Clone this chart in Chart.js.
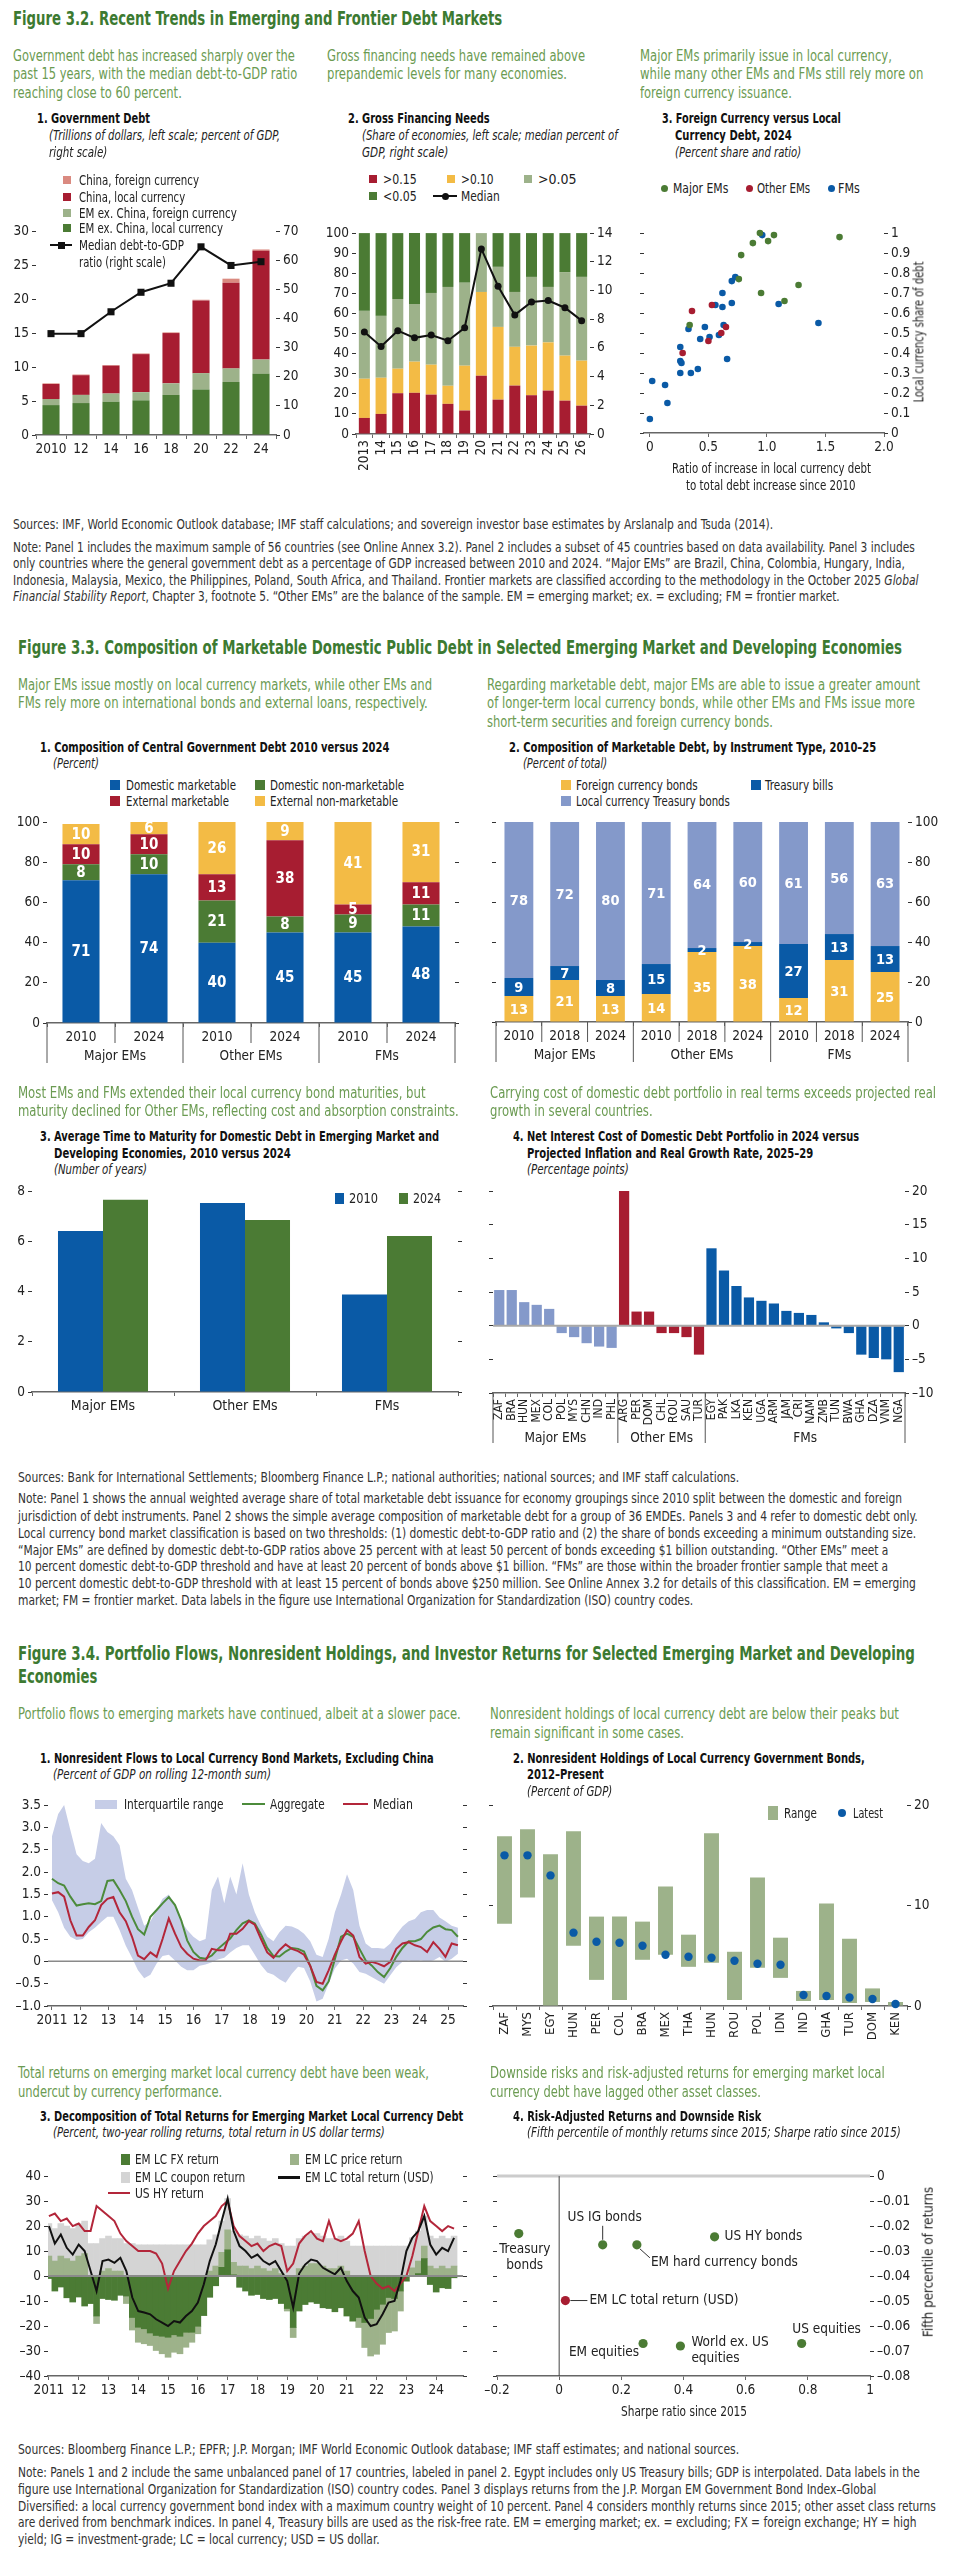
<!DOCTYPE html>
<html>
<head>
<meta charset="utf-8">
<title>Figures 3.2–3.4</title>
<script src="https://cdn.jsdelivr.net/npm/chart.js@4.4.1/dist/chart.umd.min.js"></script>
<style>
  html, body { margin: 0; padding: 0; background: #fff; }
  #page { position: relative; width: 954px; height: 2573px; overflow: hidden; background: #fff;
          font-family: 'Liberation Sans Narrow', 'Arial Narrow', 'DejaVu Sans Condensed', sans-serif; }
  .t { position: absolute; white-space: nowrap; transform-origin: 0 50%; }
  .ft { font-weight: bold; font-size: 20px; line-height: 24px; color: #3c7a31; }
  .hl { font-size: 15.5px; line-height: 19px; color: #6b9b52; }
  .pt { font-weight: bold; font-size: 14.5px; line-height: 17px; color: #111; }
  .ps { font-style: italic; font-size: 13.5px; line-height: 16px; color: #222; }
  .lg { font-size: 14px; line-height: 16px; color: #222; }
  .nt { font-size: 13.5px; line-height: 16px; color: #333; }
  .ax { font-size: 13.5px; line-height: 16px; color: #222; }
  .sw { position: absolute; }
</style>
</head>
<body>
<div id="page"></div>
<script>
// ---------- Figure 3.2 ----------
// panel 1: government debt, trillions of dollars
const debtYears = ['2010', '12', '14', '16', '18', '20', '22', '24'];
const emLocal = [4.4, 4.7, 4.9, 5.1, 5.9, 6.7, 7.8, 9.0];
const emForeign = [0.9, 1.2, 1.2, 1.2, 1.7, 2.4, 2.0, 2.1];
const chinaLocal = [2.2, 2.9, 4.1, 5.6, 7.4, 10.7, 12.6, 16.0];
const chinaForeign = [0.1, 0.1, 0.1, 0.1, 0.1, 0.1, 0.6, 0.2];
const debtMedian = [34.8, 34.8, 42.3, 49.0, 52.1, 64.6, 58.2, 59.5];
const debtTicksL = [0, 5, 10, 15, 20, 25, 30];
const debtTicksR = [0, 10, 20, 30, 40, 50, 60, 70];

// panel 2: gross financing needs, share of economies
const gfnYears = ['2013', '14', '15', '16', '17', '18', '19', '20', '21', '22', '23', '24', '25', '26'];
const gfnOver15 = [8, 10, 20.3, 20.5, 19.6, 15, 11.7, 29, 17.1, 24.1, 19.3, 21.6, 16.6, 14.1];
const gfnOver10 = [19.5, 18, 12.2, 15.5, 14.9, 9, 22.3, 41.7, 36.2, 19.3, 24.7, 24, 22.4, 22.4];
const gfnOver05 = [33.8, 30.8, 34.7, 28.7, 35.7, 49.2, 41.3, 29.3, 29.9, 27.3, 34.2, 27.6, 41.6, 41.7];
const gfnUnder05 = [38.7, 41.2, 32.8, 35.3, 29.8, 26.8, 24.7, 0, 16.8, 29.3, 21.8, 26.8, 19.4, 21.8];
const gfnMedian = [7.1, 6.1, 7.2, 6.7, 6.9, 6.5, 7.4, 12.9, 10.3, 8.3, 9.2, 9.3, 8.8, 7.9];
const gfnTicksL = [0, 10, 20, 30, 40, 50, 60, 70, 80, 90, 100];
const gfnTicksR = [0, 2, 4, 6, 8, 10, 12, 14];

// panel 3: local currency share vs ratio of increase
const majorX = [0.94, 1.06, 1.01, 0.88, 1.62, 0.78, 0.76, 1.27, 0.95, 1.15, 0.34];
const majorY = [1.0, 0.99, 0.96, 0.95, 0.98, 0.89, 0.77, 0.74, 0.70, 0.66, 0.54];
const otherX = [0.36, 0.53, 0.61, 0.65, 0.50, 0.28];
const otherY = [0.61, 0.64, 0.50, 0.53, 0.46, 0.40];
const fmX = [0.96, 0.73, 0.70, 0.62, 0.56, 0.62, 0.70, 1.10, 0.47, 0.63, 0.59, 0.51, 0.43, 0.33, 1.44, 0.26, 0.26, 0.27, 0.66, 0.41, 0.35, 0.26, 0.02, 0.13, 0.15, 0.00];
const fmY = [0.99, 0.78, 0.76, 0.70, 0.64, 0.63, 0.65, 0.645, 0.53, 0.54, 0.49, 0.48, 0.47, 0.52, 0.55, 0.43, 0.36, 0.35, 0.37, 0.32, 0.30, 0.30, 0.26, 0.24, 0.15, 0.07];
const shareTicksX = [0, 0.5, 1, 1.5, 2];
const shareTicksY = [0, 0.1, 0.2, 0.3, 0.4, 0.5, 0.6, 0.7, 0.8, 0.9, 1];

// ---------- Figure 3.3 ----------
const compYears = ['2010', '2024', '2010', '2024', '2010', '2024'];
const compGroups = ['Major EMs', 'Other EMs', 'FMs'];
const domMkt = [71, 74, 40, 45, 45, 48];
const domNonMkt = [8, 10, 21, 8, 9, 11];
const extMkt = [10, 10, 13, 38, 5, 11];
const extNonMkt = [10, 6, 26, 9, 41, 31];
const pctTicks = [0, 20, 40, 60, 80, 100];

const instYears = ['2010', '2018', '2024', '2010', '2018', '2024', '2010', '2018', '2024'];
const fcBonds = [13, 21, 13, 14, 35, 38, 12, 31, 25];
const tBills = [9, 7, 8, 15, 2, 2, 27, 13, 13];
const lcBonds = [78, 72, 80, 71, 64, 60, 61, 56, 63];

const atmGroups = ['Major EMs', 'Other EMs', 'FMs'];
const atm2010 = [6.41, 7.52, 3.88];
const atm2024 = [7.65, 6.85, 6.21];
const atmTicks = [0, 2, 4, 6, 8];

const nicCodes = ['ZAF', 'BRA', 'HUN', 'MEX', 'COL', 'POL', 'MYS', 'CHN', 'IND', 'PHL',
  'ARG', 'PER', 'DOM', 'CHL', 'ROU', 'SAU', 'TUR',
  'EGY', 'PAK', 'LKA', 'KEN', 'UGA', 'ARM', 'JAM', 'CRI', 'NAM', 'ZMB', 'TUN', 'BWA', 'GHA', 'DZA', 'VNM', 'NGA'];
const nicValues = [5.3, 5.3, 3.5, 3.1, 2.5, -1.1, -1.7, -2.6, -3.1, -3.3,
  20.0, 2.1, 2.1, -1.1, -1.1, -1.7, -4.3,
  11.5, 8.2, 5.9, 4.2, 3.7, 3.3, 2.2, 1.9, 1.6, 0.5, -0.4, -1.1, -4.3, -4.8, -5.0, -6.9];
const nicGroups = ['Major EMs', 'Other EMs', 'FMs'];
const nicGroupSizes = [10, 7, 16];
const nicTicks = [-10, -5, 0, 5, 10, 15, 20];

// ---------- Figure 3.4 ----------
// panel 1: nonresident flows, percent of GDP
const flowDates = [2011.00, 2011.22, 2011.43, 2011.65, 2011.87, 2012.09, 2012.30, 2012.52, 2012.74, 2012.96,
  2013.17, 2013.39, 2013.61, 2013.83, 2014.04, 2014.26, 2014.48, 2014.70, 2014.91, 2015.13,
  2015.35, 2015.57, 2015.78, 2016.00, 2016.22, 2016.43, 2016.65, 2016.87, 2017.09, 2017.30,
  2017.52, 2017.74, 2017.96, 2018.17, 2018.39, 2018.61, 2018.83, 2019.04, 2019.26, 2019.48,
  2019.70, 2019.91, 2020.13, 2020.35, 2020.57, 2020.78, 2021.00, 2021.22, 2021.43, 2021.65,
  2021.87, 2022.09, 2022.30, 2022.52, 2022.74, 2022.96, 2023.17, 2023.39, 2023.61, 2023.83,
  2024.04, 2024.26, 2024.48, 2024.70, 2024.91, 2025.13, 2025.35];
const flowAggregate = [1.85, 1.75, 1.7, 1.45, 1.25, 1.28, 1.3, 1.28, 1.35, 1.8,
  1.82, 1.6, 1.35, 1.0, 0.72, 0.6, 1.0, 1.15, 1.3, 1.44,
  1.26, 0.92, 0.47, 0.21, 0.08, 0.06, 0.13, 0.28, 0.40, 0.51,
  0.70, 0.85, 0.92, 0.85, 0.6, 0.3, 0.12, 0.11, 0.22, 0.3,
  0.28, 0.22, -0.1, -0.55, -0.65, -0.45, 0.05, 0.55, 0.62, 0.55,
  0.28, 0.02, -0.09, -0.24, -0.35, -0.15, 0.1, 0.3, 0.45, 0.45,
  0.5, 0.66, 0.76, 0.8, 0.72, 0.70, 0.55];
const flowMedian = [1.52, 1.55, 1.45, 0.92, 0.58, 0.58, 0.77, 0.92, 1.26, 1.4,
  1.44, 1.1, 0.9, 0.55, 0.13, 0.05, 0.2, 0.1, 0.5, 0.96,
  0.62, 0.32, 0.17, 0.06, 0.02, 0.02, 0.28, 0.25, 0.25, 0.62,
  0.62, 0.73, 0.9, 0.82, 0.5, 0.2, 0.08, 0.25, 0.38, 0.28,
  0.23, 0.15, -0.1, -0.46, -0.5, -0.2, 0.15, 0.45, 0.7, 0.58,
  0.10, -0.05, -0.01, -0.05, -0.11, -0.01, 0.28, 0.40, 0.43, 0.36,
  0.32, 0.21, 0.43, 0.28, 0.10, 0.40, 0.36];
const flowIqrHigh = [2.8, 3.3, 3.5, 2.94, 2.4, 2.25, 2.2, 2.3, 3.1, 2.9,
  2.8, 2.6, 1.85, 1.6, 1.2, 0.8, 0.9, 1.15, 1.4, 1.5,
  1.25, 0.9, 0.7, 0.55, 0.45, 0.5, 1.6, 1.9, 1.3, 1.9,
  1.5, 2.2, 1.5, 1.1, 0.8, 0.55, 0.45, 0.65, 0.8, 0.78,
  0.72, 0.62, 0.45, 0.15, 0.1, 0.5, 1.1, 1.5, 1.95, 1.6,
  0.8, 0.4, 0.3, 0.3, 0.28, 0.4, 0.6, 0.78, 0.9, 0.95,
  1.1, 1.15, 1.15, 0.98, 0.9, 0.8, 0.75];
const flowIqrLow = [1.37, 1.1, 0.75, 0.55, 0.48, 0.5, 0.65, 0.75, 0.88, 1.0,
  1.0, 0.7, 0.35, 0.08, -0.2, -0.38, -0.3, -0.05, 0.12, 0.15,
  0.02, -0.12, -0.2, -0.2, -0.1, -0.07, -0.02, 0.04, 0.08, 0.2,
  0.3, 0.36, 0.36, 0.15, -0.08, -0.25, -0.3, -0.4, -0.48, -0.28,
  -0.12, -0.15, -0.45, -0.9, -0.84, -0.5, -0.16, 0.02, 0.06, -0.05,
  -0.24, -0.28, -0.35, -0.43, -0.5, -0.31, -0.13, -0.01, 0.02, -0.01,
  0.02, -0.01, 0.02, 0.10, -0.01, 0.06, 0.17];
const flowYearTicks = [2011, 2012, 2013, 2014, 2015, 2016, 2017, 2018, 2019, 2020, 2021, 2022, 2023, 2024, 2025];
const flowTicks = [-1, -0.5, 0, 0.5, 1, 1.5, 2, 2.5, 3, 3.5];

// panel 2: nonresident holdings, percent of GDP
const nrCodes = ['ZAF', 'MYS', 'EGY', 'HUN', 'PER', 'COL', 'BRA', 'MEX', 'THA', 'HUN', 'ROU', 'POL', 'IDN', 'IND', 'GHA', 'TUR', 'DOM', 'KEN'];
const nrMin = [8.2, 10.8, 0, 6.0, 2.6, 0.6, 4.6, 5.1, 3.9, 4.3, 0.6, 3.8, 2.8, 0.5, 0.6, 0.3, 0.4, 0];
const nrMax = [16.9, 17.6, 15.1, 17.4, 8.9, 8.9, 8.4, 11.9, 7.1, 17.2, 5.4, 12.8, 6.8, 1.5, 10.2, 6.7, 1.75, 0.4];
const nrLatest = [15.0, 15.0, 13.0, 7.3, 6.4, 6.3, 6.0, 5.1, 4.9, 4.8, 4.5, 4.2, 4.1, 1.1, 1.0, 0.85, 0.7, 0.2];
const nrTicks = [0, 10, 20];

// panel 3: two-year rolling returns, percent
const retDates = [2011.0, 2011.2, 2011.4, 2011.6, 2011.8, 2012.0, 2012.2, 2012.4, 2012.6, 2012.8,
  2013.0, 2013.2, 2013.4, 2013.6, 2013.8, 2014.0, 2014.2, 2014.4, 2014.6, 2014.8,
  2015.0, 2015.2, 2015.4, 2015.6, 2015.8, 2016.0, 2016.2, 2016.4, 2016.6, 2016.8,
  2017.0, 2017.2, 2017.4, 2017.6, 2017.8, 2018.0, 2018.2, 2018.4, 2018.6, 2018.8,
  2019.0, 2019.2, 2019.4, 2019.6, 2019.8, 2020.0, 2020.2, 2020.4, 2020.6, 2020.8,
  2021.0, 2021.2, 2021.4, 2021.6, 2021.8, 2022.0, 2022.2, 2022.4, 2022.6, 2022.8,
  2023.0, 2023.2, 2023.4, 2023.6, 2023.8, 2024.0, 2024.2, 2024.4, 2024.6];
const retFx = [-1, -6, -4.4, -8.7, -10.4, -8.4, -12, -11, -16, -9,
  -9.4, -9.7, -7.7, -8, -16.6, -20.5, -21.1, -22.8, -23.8, -24.1,
  -24.5, -23.5, -24.1, -22.5, -22.5, -20.1, -15.8, -8.5, -3.9, 3.5,
  10.5, 0.5, -4.5, -6, -7.7, -7.4, -9, -9.4, -9, -11,
  -13, -20.6, -14, -11.4, -10.4, -11, -12.7, -13, -14.3, -12.7,
  -16, -18, -16.6, -18.6, -17, -13.3, -11.3, -8.6, -9, -6,
  -2, 0.3, 1, 7, -3.4, -6.4, -4.7, -5, -0.7];
const retPrice = [8, 6, 8, 7, 6, 8, 9, 0, -3, 2,
  3, 2, 2, -3, -5, -6, -6, -5, -6, -7,
  -8, -7, -7, -6, -4, -3, 0, 2, 4, 6,
  8, 5, 4, 4, 3, 4, 3, 2, 3, 1,
  -1, -4, 3, 4, 5, 5, 4, 3, 3, 4,
  2, 0, -4, -10, -15, -18, -16, -14, -13, -8,
  0, 3, 5, 5, 4, 3, 4, 3, 4];
const retCoupon = [13, 13, 13, 13, 13, 13, 13, 13, 13, 13,
  13, 13, 13, 13, 13, 12.5, 12.5, 12.5, 12.5, 12.5,
  12.5, 12.5, 12.5, 12.5, 12.5, 12.5, 12.5, 12.5, 12.5, 12.5,
  12.5, 12.5, 12.5, 12, 12, 12, 12, 12, 12, 12,
  12, 12, 12, 12, 12, 12, 12, 12, 12, 12,
  12, 12, 12, 12, 12, 12, 12, 12, 12, 12,
  12, 12, 12, 12, 12, 12, 12, 12, 12];
const retTotal = [20, 13, 16.6, 11.3, 8.6, 12.6, 10, 2, -6, 6,
  6.6, 5.3, 7.3, 2, -8.6, -14, -14.6, -15.3, -17.3, -18.6,
  -20, -18, -18.6, -16, -14, -10.6, -3.3, 6, 12.6, 22,
  31, 18, 12, 10, 7.3, 8.6, 6, 4.6, 6, 2,
  -2, -12.6, 1, 4.6, 6.6, 6, 3.3, 2, 0.7, 3.3,
  -2, -6, -8.6, -16.6, -20, -19.3, -15.3, -10.6, -10, -2,
  10, 15.3, 18, 24, 12.6, 8.6, 11.3, 10, 15.3];
const retHy = [24, 25, 22, 23, 20, 21, 18, 18, 28, 26,
  24, 22, 17, 14, 12, 10, 10, 10, 9, 5,
  -5, 2, 6, 10, 13, 17, 20, 22, 24, 28,
  30, 20, 16, 14, 12, 13, 10, 12, 13, 12,
  2, 5, 13, 16, 18, 15, 14, 22, 15, 14,
  15, 17, 22, 10, 0, -3, -5, -4, -6, -3,
  0, 8, 18, 28, 22, 20, 18, 20, 19];
const retYearTicks = [2011, 2012, 2013, 2014, 2015, 2016, 2017, 2018, 2019, 2020, 2021, 2022, 2023, 2024];
const retTicks = [-40, -30, -20, -10, 0, 10, 20, 30, 40];

// panel 4: risk-adjusted returns
const riskNames = ['Treasury bonds', 'US IG bonds', 'EM hard currency bonds', 'US HY bonds', 'EM LC total return (USD)', 'EM equities', 'World ex. US equities', 'US equities'];
const riskSharpe = [-0.13, 0.14, 0.25, 0.50, 0.02, 0.27, 0.39, 0.78];
const riskP5 = [-0.023, -0.0275, -0.0275, -0.0243, -0.0498, -0.067, -0.068, -0.067];
const sharpeTicks = [-0.2, 0, 0.2, 0.4, 0.6, 0.8, 1];
const p5Ticks = [-0.08, -0.07, -0.06, -0.05, -0.04, -0.03, -0.02, -0.01, 0];

// ---------- styling ----------
const COL = {
  dkgreen: '#4b7b34', ltgreen: '#9db28a', red: '#a71d31', pink: '#da8a80', yellow: '#f3bb45',
  blue: '#0a5aa6', ltblue: '#8499ca', band: '#c6cde7', gray: '#d4d4d4', agg: '#4c8b3b', med: '#b3263a'
};
const FONT = "'Liberation Sans Narrow', 'Arial Narrow', 'DejaVu Sans Condensed', sans-serif";
Chart.defaults.font.family = FONT;
Chart.defaults.font.size = 13.5;
Chart.defaults.color = '#222';

const page = document.getElementById('page');

// small plugins
function drawRefs(chart, list) {
  if (!list) return;
  const ctx = chart.ctx, ca = chart.chartArea;
  list.forEach(l => {
    ctx.save();
    ctx.strokeStyle = l.color; ctx.lineWidth = l.width;
    ctx.beginPath();
    if (l.axis === 'x') {
      const p = chart.scales.x.getPixelForValue(l.value);
      ctx.moveTo(p, ca.top); ctx.lineTo(p, ca.bottom);
    } else {
      const p = chart.scales.y.getPixelForValue(l.value);
      ctx.moveTo(ca.left, p); ctx.lineTo(ca.right, p);
    }
    ctx.stroke();
    ctx.restore();
  });
}
const refLines = {
  id: 'refLines',
  beforeDatasetsDraw(chart, args, o) { drawRefs(chart, o && o.before); },
  afterDatasetsDraw(chart, args, o) { drawRefs(chart, o && o.after); }
};
const barLabels = {
  id: 'barLabels',
  afterDatasetsDraw(chart, args, o) {
    if (!o || !o.show) return;
    const ctx = chart.ctx;
    ctx.save();
    ctx.fillStyle = '#fff';
    ctx.font = 'bold ' + o.size + 'px ' + FONT;
    ctx.textAlign = 'center'; ctx.textBaseline = 'middle';
    chart.data.datasets.forEach((ds, di) => {
      const meta = chart.getDatasetMeta(di);
      meta.data.forEach((el, i) => {
        const v = ds.data[i];
        if (!v) return;
        const p = el.getProps(['x', 'y', 'base'], true);
        ctx.fillText(String(v), p.x, (p.y + p.base) / 2 + 1);
      });
    });
    ctx.restore();
  }
};
const groupAxis = {
  id: 'groupAxis',
  afterDraw(chart, args, o) {
    if (!o || !o.sizes) return;
    const xs = chart.scales.x, ctx = chart.ctx, y0 = xs.top;
    const step = xs.getPixelForValue(1) - xs.getPixelForValue(0);
    const edge = k => xs.getPixelForValue(0) + (k - 0.5) * step;
    const line = (px, len) => { ctx.beginPath(); ctx.moveTo(px, y0); ctx.lineTo(px, y0 + len); ctx.stroke(); };
    ctx.save();
    ctx.strokeStyle = '#555'; ctx.lineWidth = 1;
    ctx.fillStyle = '#222'; ctx.font = '13.5px ' + FONT;
    ctx.textAlign = 'center'; ctx.textBaseline = 'middle';
    let i = 0;
    line(edge(0), o.long);
    o.sizes.forEach((n, g) => {
      if (o.short) for (let k = 1; k < n; k++) line(edge(i + k), o.short);
      line(edge(i + n), o.long);
      ctx.fillText(o.names[g], (edge(i) + edge(i + n)) / 2, y0 + o.labelY);
      i += n;
    });
    ctx.restore();
  }
};
const pointNotes = {
  id: 'pointNotes',
  afterDatasetsDraw(chart, args, o) {
    if (!o || !o.notes) return;
    const ctx = chart.ctx, meta = chart.getDatasetMeta(0);
    ctx.save();
    ctx.fillStyle = '#222'; ctx.strokeStyle = '#333'; ctx.lineWidth = 1;
    ctx.font = '13.5px ' + FONT; ctx.textBaseline = 'middle';
    o.notes.forEach((n, i) => {
      const el = meta.data[i];
      if (n.line) {
        ctx.beginPath();
        ctx.moveTo(el.x + n.line[0], el.y + n.line[1]);
        ctx.lineTo(el.x + n.line[2], el.y + n.line[3]);
        ctx.stroke();
      }
      ctx.textAlign = n.align;
      const lines = n.wrap || [o.names[i]];
      lines.forEach((t, k) => ctx.fillText(t, el.x + n.dx, el.y + n.dy + k * 16));
    });
    ctx.restore();
  }
};
Chart.register(refLines, barLabels, groupAxis, pointNotes);

// layout helpers
function place(r) {
  const c = document.createElement('canvas');
  const w = r.R - r.L + r.lw + r.rw, h = r.B - r.T + r.th + r.bh;
  c.width = w; c.height = h;
  Object.assign(c.style, { position: 'absolute', left: (r.L - r.lw) + 'px', top: (r.T - r.th) + 'px', width: w + 'px', height: h + 'px' });
  page.appendChild(c);
  return c;
}
function opts(r, scales, plugins, datasets) {
  return {
    responsive: false, animation: false, events: [],
    layout: { padding: { top: r.th, right: 0, bottom: 0, left: 0 } },
    scales: scales,
    datasets: datasets || {},
    plugins: Object.assign({ legend: { display: false }, tooltip: { enabled: false } }, plugins || {})
  };
}
function yAx(pos, min, max, vals, width, fmt, extra) {
  return Object.assign({
    type: 'linear', position: pos, min: min, max: max,
    afterBuildTicks: s => { s.ticks = vals.map(v => ({ value: v })); },
    afterFit: s => { s.width = width; },
    border: { display: false },
    grid: { drawOnChartArea: false, drawTicks: true, tickLength: 4, color: '#333', lineWidth: 1 },
    ticks: { padding: 3, color: '#222', font: { size: 13.5 }, callback: fmt || (() => '') }
  }, extra || {});
}
function xCat(height, rot, size, extra) {
  return Object.assign({
    type: 'category', offset: true,
    afterFit: s => { s.height = height; },
    border: { display: true, color: '#666', width: 1.5 },
    grid: { offset: true, drawOnChartArea: false, drawTicks: true, tickLength: 4, color: '#666' },
    ticks: { autoSkip: false, maxRotation: rot, minRotation: rot, padding: 2, color: '#222', font: { size: size } }
  }, extra || {});
}
function xLin(min, max, vals, height, fmt, extra) {
  return Object.assign({
    type: 'linear', min: min, max: max, offset: false,
    afterBuildTicks: s => { s.ticks = vals.map(v => ({ value: v })); },
    afterFit: s => { s.height = height; },
    border: { display: true, color: '#666', width: 1.5 },
    grid: { offset: false, drawOnChartArea: false, drawTicks: true, tickLength: 4, color: '#666' },
    ticks: { autoSkip: false, maxRotation: 0, minRotation: 0, padding: 2, color: '#222', font: { size: 13.5 }, callback: fmt }
  }, extra || {});
}
const fmtInt = v => (v < 0 ? '–' : '') + Math.abs(v);
const fmt1 = v => v === 0 ? '0' : (v < 0 ? '–' : '') + Math.abs(v).toFixed(1);
const fmtYear = v => v === 2011 ? '2011' : String(v).slice(2);
const xy = (xs, ys) => xs.map((x, i) => ({ x: x, y: ys[i] }));

// ---------- charts ----------
// Fig 3.2 panel 1
(function () {
  const r = { L: 36, T: 230, R: 276, B: 435, lw: 36, rw: 34, th: 10, bh: 25 };
  new Chart(place(r), {
    type: 'bar',
    data: { labels: debtYears, datasets: [
      { type: 'line', data: debtMedian, yAxisID: 'y2', order: 0, borderColor: '#111', borderWidth: 2, pointStyle: 'rect', pointRadius: 5, pointBackgroundColor: '#111', pointBorderWidth: 0, clip: false },
      { data: emLocal, backgroundColor: COL.dkgreen, order: 1 },
      { data: emForeign, backgroundColor: COL.ltgreen, order: 1 },
      { data: chinaLocal, backgroundColor: COL.red, order: 1 },
      { data: chinaForeign, backgroundColor: COL.pink, order: 1 }
    ] },
    options: opts(r, {
      x: xCat(25, 0, 13.5, { stacked: true }),
      y: yAx('left', 0, 30, debtTicksL, 36, fmtInt, { stacked: true }),
      y2: yAx('right', 0, 70, debtTicksR, 34, fmtInt)
    }, null, { bar: { barPercentage: 0.57, categoryPercentage: 1 } })
  });
})();

// Fig 3.2 panel 2
(function () {
  const r = { L: 356, T: 232, R: 590, B: 434, lw: 36, rw: 40, th: 10, bh: 45 };
  new Chart(place(r), {
    type: 'bar',
    data: { labels: gfnYears, datasets: [
      { type: 'line', data: gfnMedian, yAxisID: 'y2', order: 0, borderColor: '#111', borderWidth: 2, pointRadius: 3.5, pointBackgroundColor: '#111', pointBorderWidth: 0, clip: false },
      { data: gfnOver15, backgroundColor: COL.red, order: 1 },
      { data: gfnOver10, backgroundColor: COL.yellow, order: 1 },
      { data: gfnOver05, backgroundColor: COL.ltgreen, order: 1 },
      { data: gfnUnder05, backgroundColor: COL.dkgreen, order: 1 }
    ] },
    options: opts(r, {
      x: xCat(45, 90, 13.5, { stacked: true }),
      y: yAx('left', 0, 100, gfnTicksL, 36, fmtInt, { stacked: true }),
      y2: yAx('right', 0, 14, gfnTicksR, 40, fmtInt)
    }, null, { bar: { barPercentage: 0.66, categoryPercentage: 1 } })
  });
})();

// Fig 3.2 panel 3
(function () {
  const r = { L: 644, T: 232, R: 884, B: 433, lw: 44, rw: 70, th: 10, bh: 25 };
  const pt = c => ({ backgroundColor: c, pointRadius: 3.3, pointBorderWidth: 0, clip: false });
  new Chart(place(r), {
    type: 'scatter',
    data: { datasets: [
      Object.assign({ data: xy(majorX, majorY) }, pt(COL.dkgreen)),
      Object.assign({ data: xy(otherX, otherY) }, pt(COL.red)),
      Object.assign({ data: xy(fmX, fmY) }, pt(COL.blue))
    ] },
    options: opts(r, {
      x: xLin(-0.05, 2, shareTicksX, 25, v => v === 0 ? '0' : v.toFixed(1)),
      y: yAx('left', 0, 1, shareTicksY, 44, null),
      y2: yAx('right', 0, 1, shareTicksY, 70, v => v === 0 ? '0' : v === 1 ? '1' : v.toFixed(1))
    })
  });
})();

// Fig 3.3 panel 1
(function () {
  const r = { L: 47, T: 821, R: 455, B: 1023, lw: 47, rw: 15, th: 10, bh: 62 };
  new Chart(place(r), {
    type: 'bar',
    data: { labels: compYears, datasets: [
      { data: domMkt, backgroundColor: COL.blue },
      { data: domNonMkt, backgroundColor: COL.dkgreen },
      { data: extMkt, backgroundColor: COL.red },
      { data: extNonMkt, backgroundColor: COL.yellow }
    ] },
    options: opts(r, {
      x: xCat(62, 0, 13.5, { stacked: true }),
      y: yAx('left', 0, 100, pctTicks, 47, fmtInt, { stacked: true }),
      y2: yAx('right', 0, 100, pctTicks, 15, null)
    }, {
      barLabels: { show: true, size: 15 },
      groupAxis: { names: compGroups, sizes: [2, 2, 2], long: 40, short: 20, labelY: 33 }
    }, { bar: { barPercentage: 0.545, categoryPercentage: 1 } })
  });
})();

// Fig 3.3 panel 2
(function () {
  const r = { L: 496, T: 821, R: 908, B: 1022, lw: 20, rw: 40, th: 10, bh: 62 };
  new Chart(place(r), {
    type: 'bar',
    data: { labels: instYears, datasets: [
      { data: fcBonds, backgroundColor: COL.yellow },
      { data: tBills, backgroundColor: COL.blue },
      { data: lcBonds, backgroundColor: COL.ltblue }
    ] },
    options: opts(r, {
      x: xCat(62, 0, 13.5, { stacked: true }),
      y: yAx('left', 0, 100, pctTicks, 20, null, { stacked: true }),
      y2: yAx('right', 0, 100, pctTicks, 40, fmtInt)
    }, {
      barLabels: { show: true, size: 14.5 },
      groupAxis: { names: compGroups, sizes: [3, 3, 3], long: 40, short: 20, labelY: 33 }
    }, { bar: { barPercentage: 0.63, categoryPercentage: 1 } })
  });
})();

// Fig 3.3 panel 3
(function () {
  const r = { L: 32, T: 1191, R: 458, B: 1392, lw: 32, rw: 15, th: 12, bh: 30 };
  new Chart(place(r), {
    type: 'bar',
    data: { labels: atmGroups, datasets: [
      { data: atm2010, backgroundColor: COL.blue },
      { data: atm2024, backgroundColor: COL.dkgreen }
    ] },
    options: opts(r, {
      x: xCat(30, 0, 14),
      y: yAx('left', 0, 8, atmTicks, 32, fmtInt),
      y2: yAx('right', 0, 8, atmTicks, 15, null)
    }, null, { bar: { barPercentage: 1, categoryPercentage: 0.634 } })
  });
})();

// Fig 3.3 panel 4
(function () {
  const r = { L: 493, T: 1190, R: 905, B: 1393, lw: 20, rw: 40, th: 10, bh: 62 };
  const groupColors = [COL.ltblue, COL.red, COL.blue];
  const colors = nicGroupSizes.flatMap((n, g) => Array(n).fill(groupColors[g]));
  new Chart(place(r), {
    type: 'bar',
    data: { labels: nicCodes, datasets: [{ data: nicValues, backgroundColor: colors }] },
    options: opts(r, {
      x: xCat(62, 90, 12),
      y: yAx('left', -10, 20, nicTicks, 20, null),
      y2: yAx('right', -10, 20, nicTicks, 40, fmtInt)
    }, {
      refLines: { after: [{ axis: 'y', value: 0, color: '#a8a8a8', width: 2 }] },
      groupAxis: { names: nicGroups, sizes: nicGroupSizes, long: 50, short: 0, labelY: 45 }
    }, { bar: { barPercentage: 0.82, categoryPercentage: 1 } })
  });
})();

// Fig 3.4 panel 1
(function () {
  const r = { L: 48, T: 1804, R: 463, B: 2006, lw: 48, rw: 12, th: 10, bh: 28 };
  const ln = (ys, c, o) => ({ data: xy(flowDates, ys), borderColor: c, borderWidth: 2, pointRadius: 0, tension: 0, order: o });
  new Chart(place(r), {
    type: 'line',
    data: { datasets: [
      { data: xy(flowDates, flowIqrLow), borderWidth: 0, borderColor: 'rgba(0,0,0,0)', pointRadius: 0, fill: false, order: 3 },
      { data: xy(flowDates, flowIqrHigh), borderWidth: 0, borderColor: 'rgba(0,0,0,0)', pointRadius: 0, fill: '-1', backgroundColor: COL.band, order: 3 },
      ln(flowAggregate, COL.agg, 1),
      ln(flowMedian, COL.med, 0)
    ] },
    options: opts(r, {
      x: xLin(2010.86, 2025.53, flowYearTicks, 28, fmtYear),
      y: yAx('left', -1, 3.5, flowTicks, 48, fmt1),
      y2: yAx('right', -1, 3.5, flowTicks, 12, null)
    }, {
      refLines: { after: [{ axis: 'y', value: 0, color: '#8a8a8a', width: 1.5 }] }
    })
  });
})();

// Fig 3.4 panel 2
(function () {
  const r = { L: 493, T: 1804, R: 907, B: 2006, lw: 20, rw: 40, th: 10, bh: 45 };
  new Chart(place(r), {
    type: 'bar',
    data: { labels: nrCodes, datasets: [
      { type: 'line', data: nrLatest, showLine: false, pointRadius: 4.2, pointBackgroundColor: COL.blue, pointBorderWidth: 0, order: 0, clip: false },
      { data: nrMin.map((lo, i) => [lo, nrMax[i]]), backgroundColor: COL.ltgreen, order: 1 }
    ] },
    options: opts(r, {
      x: xCat(45, 90, 13),
      y: yAx('left', 0, 20, nrTicks, 20, null),
      y2: yAx('right', 0, 20, nrTicks, 40, fmtInt)
    }, null, { bar: { barPercentage: 0.65, categoryPercentage: 1 } })
  });
})();

// Fig 3.4 panel 3
(function () {
  const r = { L: 48, T: 2175, R: 463, B: 2376, lw: 48, rw: 12, th: 10, bh: 30 };
  const bar = (ys, c) => ({ data: xy(retDates, ys), backgroundColor: c, order: 1 });
  const ln = (ys, c, w) => ({ type: 'line', data: xy(retDates, ys), yAxisID: 'y2', borderColor: c, borderWidth: w, pointRadius: 0, tension: 0, order: 0 });
  new Chart(place(r), {
    type: 'bar',
    data: { datasets: [
      ln(retTotal, '#111', 2),
      ln(retHy, COL.med, 2),
      bar(retFx, COL.dkgreen),
      bar(retPrice, COL.ltgreen),
      bar(retCoupon, COL.gray)
    ] },
    options: opts(r, {
      x: xLin(2010.97, 2024.9, retYearTicks, 30, fmtYear, { stacked: true }),
      y: yAx('left', -40, 40, retTicks, 48, fmtInt, { stacked: true }),
      y2: yAx('right', -40, 40, retTicks, 12, null)
    }, {
      refLines: { after: [{ axis: 'y', value: 0, color: '#8a8a8a', width: 2 }] }
    }, { bar: { barPercentage: 1, categoryPercentage: 1 } })
  });
})();

// Fig 3.4 panel 4
(function () {
  const r = { L: 497, T: 2175, R: 870, B: 2376, lw: 24, rw: 80, th: 10, bh: 30 };
  const dotColors = riskNames.map(n => n.indexOf('EM LC') === 0 ? COL.red : COL.dkgreen);
  const notes = [
    { align: 'center', dx: 6, dy: 16, wrap: ['Treasury', 'bonds'] },
    { align: 'center', dx: 2, dy: -27, line: [0, -19, 0, -5] },
    { align: 'left', dx: 14, dy: 18, line: [3, 4, 13, 13] },
    { align: 'left', dx: 10, dy: 0 },
    { align: 'left', dx: 24, dy: 0, line: [5, 0, 22, 0] },
    { align: 'right', dx: -4, dy: 9 },
    { align: 'left', dx: 11, dy: -4, wrap: ['World ex. US', 'equities'] },
    { align: 'center', dx: 25, dy: -14 }
  ];
  new Chart(place(r), {
    type: 'scatter',
    data: { datasets: [
      { data: xy(riskSharpe, riskP5), pointRadius: 4.6, pointBackgroundColor: dotColors, pointBorderWidth: 0, clip: false }
    ] },
    options: opts(r, {
      x: xLin(-0.2, 1, sharpeTicks, 30, v => v === 0 ? '0' : v === 1 ? '1' : (v < 0 ? '–' : '') + Math.abs(v).toFixed(1)),
      y: yAx('left', -0.08, 0, p5Ticks, 24, null),
      y2: yAx('right', -0.08, 0, p5Ticks, 80, v => v === 0 ? '0' : '–' + Math.abs(v).toFixed(2))
    }, {
      refLines: {
        before: [{ axis: 'y', value: 0, color: '#cccccc', width: 3 }, { axis: 'x', value: 0, color: '#444', width: 1 }]
      },
      pointNotes: { names: riskNames, notes: notes }
    })
  });
})();

// ---------- text ----------
const TEXTS = [
  // Figure 3.2
  ['ft', 13, 18, 'Figure 3.2. Recent Trends in Emerging and Frontier Debt Markets', 502],
  ['hl', 13, 56, 'Government debt has increased sharply over the', 295],
  ['hl', 13, 74, 'past 15 years, with the median debt-to-GDP ratio', 297],
  ['hl', 13, 93, 'reaching close to 60 percent.', 182],
  ['hl', 327, 56, 'Gross financing needs have remained above', 585],
  ['hl', 327, 74, 'prepandemic levels for many economies.', 567],
  ['hl', 640, 56, 'Major EMs primarily issue in local currency,', 892],
  ['hl', 640, 74, 'while many other EMs and FMs still rely more on', 923],
  ['hl', 640, 93, 'foreign currency issuance.', 792],
  ['pt', 37, 118, '1. Government Debt', 150],
  ['ps', 49, 135, '(Trillions of dollars, left scale; percent of GDP,', 280],
  ['ps', 49, 152, 'right scale)', 107],
  ['pt', 348, 118, '2. Gross Financing Needs', 490],
  ['ps', 362, 135, '(Share of economies, left scale; median percent of', 618],
  ['ps', 362, 152, 'GDP, right scale)', 448],
  ['pt', 662, 118, '3. Foreign Currency versus Local', 841],
  ['pt', 675, 135, 'Currency Debt, 2024', 792],
  ['ps', 675, 152, '(Percent share and ratio)', 801],
  ['lg', 79, 180, 'China, foreign currency', 199],
  ['lg', 79, 197, 'China, local currency', 185],
  ['lg', 79, 213, 'EM ex. China, foreign currency', 237],
  ['lg', 79, 228, 'EM ex. China, local currency', 223],
  ['lg', 79, 245, 'Median debt-to-GDP', 184],
  ['lg', 79, 262, 'ratio (right scale)', 166],
  ['lg', 383, 179, '&gt;0.15', 417],
  ['lg', 461, 179, '&gt;0.10', 494],
  ['lg', 538, 179, '&gt;0.05', 577],
  ['lg', 383, 196, '&lt;0.05', 417],
  ['lg', 461, 196, 'Median', 500],
  ['lg', 673, 188, 'Major EMs', 728],
  ['lg', 757, 188, 'Other EMs', 810],
  ['lg', 838, 188, 'FMs', 860],
  ['ax', 672, 468, 'Ratio of increase in local currency debt', 871],
  ['ax', 686, 485, 'to total debt increase since 2010', 856],
  ['nt', 13, 524, 'Sources: IMF, World Economic Outlook database; IMF staff calculations; and sovereign investor base estimates by Arslanalp and Tsuda (2014).', 773],
  ['nt', 13, 547, 'Note: Panel 1 includes the maximum sample of 56 countries (see Online Annex 3.2). Panel 2 includes a subset of 45 countries based on data availability. Panel 3 includes', 915],
  ['nt', 13, 563, 'only countries where the general government debt as a percentage of GDP increased between 2010 and 2024. “Major EMs” are Brazil, China, Colombia, Hungary, India,', 905],
  ['nt', 13, 580, 'Indonesia, Malaysia, Mexico, the Philippines, Poland, South Africa, and Thailand. Frontier markets are classified according to the methodology in the October 2025 <i>Global</i>', 918],
  ['nt', 13, 596, '<i>Financial Stability Report</i>, Chapter 3, footnote 5. “Other EMs” are the balance of the sample. EM = emerging market; ex. = excluding; FM = frontier market.', 840],
  // Figure 3.3
  ['ft', 18, 647, 'Figure 3.3. Composition of Marketable Domestic Public Debt in Selected Emerging Market and Developing Economies', 902],
  ['hl', 18, 685, 'Major EMs issue mostly on local currency markets, while other EMs and', 432],
  ['hl', 18, 703, 'FMs rely more on international bonds and external loans, respectively.', 428],
  ['hl', 487, 685, 'Regarding marketable debt, major EMs are able to issue a greater amount', 920],
  ['hl', 487, 703, 'of longer-term local currency bonds, while other EMs and FMs issue more', 915],
  ['hl', 487, 722, 'short-term securities and foreign currency bonds.', 773],
  ['pt', 40, 747, '1. Composition of Central Government Debt 2010 versus 2024', 389],
  ['ps', 53, 763, '(Percent)', 99],
  ['pt', 509, 747, '2. Composition of Marketable Debt, by Instrument Type, 2010–25', 876],
  ['ps', 523, 763, '(Percent of total)', 607],
  ['lg', 126, 785, 'Domestic marketable', 236],
  ['lg', 270, 785, 'Domestic non-marketable', 404],
  ['lg', 126, 801, 'External marketable', 229],
  ['lg', 270, 801, 'External non-marketable', 398],
  ['lg', 576, 785, 'Foreign currency bonds', 698],
  ['lg', 765, 785, 'Treasury bills', 833],
  ['lg', 576, 801, 'Local currency Treasury bonds', 730],
  ['hl', 18, 1093, 'Most EMs and FMs extended their local currency bond maturities, but', 426],
  ['hl', 18, 1111, 'maturity declined for Other EMs, reflecting cost and absorption constraints.', 459],
  ['hl', 490, 1093, 'Carrying cost of domestic debt portfolio in real terms exceeds projected real', 936],
  ['hl', 490, 1111, 'growth in several countries.', 653],
  ['pt', 40, 1136, '3. Average Time to Maturity for Domestic Debt in Emerging Market and', 439],
  ['pt', 54, 1153, 'Developing Economies, 2010 versus 2024', 291],
  ['ps', 54, 1169, '(Number of years)', 147],
  ['pt', 513, 1136, '4. Net Interest Cost of Domestic Debt Portfolio in 2024 versus', 859],
  ['pt', 527, 1153, 'Projected Inflation and Real Growth Rate, 2025–29', 813],
  ['ps', 527, 1169, '(Percentage points)', 629],
  ['lg', 349, 1198, '2010', 378],
  ['lg', 413, 1198, '2024', 441],
  ['nt', 18, 1477, 'Sources: Bank for International Settlements; Bloomberg Finance L.P.; national authorities; national sources; and IMF staff calculations.', 739],
  ['nt', 18, 1498, 'Note: Panel 1 shows the annual weighted average share of total marketable debt issuance for economy groupings since 2010 split between the domestic and foreign', 902],
  ['nt', 18, 1516, 'jurisdiction of debt instruments. Panel 2 shows the simple average composition of marketable debt for a group of 36 EMDEs. Panels 3 and 4 refer to domestic debt only.', 918],
  ['nt', 18, 1533, 'Local currency bond market classification is based on two thresholds: (1) domestic debt-to-GDP ratio and (2) the share of bonds exceeding a minimum outstanding size.', 916],
  ['nt', 18, 1550, '“Major EMs” are defined by domestic debt-to-GDP ratios above 25 percent with at least 50 percent of bonds exceeding $1 billion outstanding. “Other EMs” meet a', 888],
  ['nt', 18, 1566, '10 percent domestic debt-to-GDP threshold and have at least 20 percent of bonds above $1 billion. “FMs” are those within the broader frontier sample that meet a', 888],
  ['nt', 18, 1583, '10 percent domestic debt-to-GDP threshold with at least 15 percent of bonds above $250 million. See Online Annex 3.2 for details of this classification. EM = emerging', 916],
  ['nt', 18, 1600, 'market; FM = frontier market. Data labels in the figure use International Organization for Standardization (ISO) country codes.', 693],
  // Figure 3.4
  ['ft', 18, 1653, 'Figure 3.4. Portfolio Flows, Nonresident Holdings, and Investor Returns for Selected Emerging Market and Developing', 915],
  ['ft', 18, 1676, 'Economies', 97],
  ['hl', 18, 1714, 'Portfolio flows to emerging markets have continued, albeit at a slower pace.', 461],
  ['hl', 490, 1714, 'Nonresident holdings of local currency debt are below their peaks but', 899],
  ['hl', 490, 1733, 'remain significant in some cases.', 684],
  ['pt', 40, 1758, '1. Nonresident Flows to Local Currency Bond Markets, Excluding China', 434],
  ['ps', 53, 1774, '(Percent of GDP on rolling 12-month sum)', 271],
  ['pt', 513, 1758, '2. Nonresident Holdings of Local Currency Government Bonds,', 865],
  ['pt', 527, 1774, '2012–Present', 604],
  ['ps', 527, 1791, '(Percent of GDP)', 612],
  ['lg', 124, 1804, 'Interquartile range', 224],
  ['lg', 270, 1804, 'Aggregate', 325],
  ['lg', 373, 1804, 'Median', 413],
  ['lg', 784, 1813, 'Range', 817],
  ['lg', 853, 1813, 'Latest', 883],
  ['hl', 18, 2073, 'Total returns on emerging market local currency debt have been weak,', 429],
  ['hl', 18, 2092, 'undercut by currency performance.', 222],
  ['hl', 490, 2073, 'Downside risks and risk-adjusted returns for emerging market local', 885],
  ['hl', 490, 2092, 'currency debt have lagged other asset classes.', 761],
  ['pt', 40, 2116, '3. Decomposition of Total Returns for Emerging Market Local Currency Debt', 463],
  ['ps', 53, 2132, '(Percent, two-year rolling returns, total return in US dollar terms)', 385],
  ['pt', 513, 2116, '4. Risk-Adjusted Returns and Downside Risk', 761],
  ['ps', 527, 2132, '(Fifth percentile of monthly returns since 2015; Sharpe ratio since 2015)', 901],
  ['lg', 135, 2159, 'EM LC FX return', 219],
  ['lg', 305, 2159, 'EM LC price return', 402],
  ['lg', 135, 2177, 'EM LC coupon return', 245],
  ['lg', 305, 2177, 'EM LC total return (USD)', 434],
  ['lg', 135, 2193, 'US HY return', 204],
  ['ax', 621, 2411, 'Sharpe ratio since 2015', 747],
  ['nt', 18, 2449, 'Sources: Bloomberg Finance L.P.; EPFR; J.P. Morgan; IMF World Economic Outlook database; IMF staff estimates; and national sources.', 739],
  ['nt', 18, 2472, 'Note: Panels 1 and 2 include the same unbalanced panel of 17 countries, labeled in panel 2. Egypt includes only US Treasury bills; GDP is interpolated. Data labels in the', 920],
  ['nt', 18, 2489, 'figure use International Organization for Standardization (ISO) country codes. Panel 3 displays returns from the J.P. Morgan EM Government Bond Index–Global', 876],
  ['nt', 18, 2506, 'Diversified: a local currency government bond index with a maximum country weight of 10 percent. Panel 4 considers monthly returns since 2015; other asset class returns', 936],
  ['nt', 18, 2522, 'are derived from benchmark indices. In panel 4, Treasury bills are used as the risk-free rate. EM = emerging market; ex. = excluding; FX = foreign exchange; HY = high', 917],
  ['nt', 18, 2539, 'yield; IG = investment-grade; LC = local currency; USD = US dollar.', 380]
];
const ROTATED = [
  [918, 332, 'Local currency share of debt', 141],
  [927, 2262, 'Fifth percentile of returns', 150]
];
// legend keys: square, line, dot
const KEYS = [
  ['sq', 63, 180, 8, 8, COL.pink], ['sq', 63, 197, 8, 8, COL.red], ['sq', 63, 213, 8, 8, COL.ltgreen], ['sq', 63, 228, 8, 8, COL.dkgreen],
  ['ln', 50, 72, 245, '#111', 2], ['sq', 57.5, 245, 7, 7, '#111'],
  ['sq', 369, 179, 8, 8, COL.red], ['sq', 447, 179, 8, 8, COL.yellow], ['sq', 524, 179, 8, 8, COL.ltgreen], ['sq', 369, 196, 8, 8, COL.dkgreen],
  ['ln', 433, 457, 196, '#111', 2], ['dot', 445, 196, 3.5, '#111'],
  ['dot', 664, 188, 3.5, COL.dkgreen], ['dot', 749, 188, 3.5, COL.red], ['dot', 831, 188, 3.5, COL.blue],
  ['sq', 110, 785, 10, 10, COL.blue], ['sq', 255, 785, 10, 10, COL.dkgreen], ['sq', 110, 801, 10, 10, COL.red], ['sq', 255, 801, 10, 10, COL.yellow],
  ['sq', 561, 785, 10, 10, COL.yellow], ['sq', 751, 785, 10, 10, COL.blue], ['sq', 561, 801, 10, 10, COL.ltblue],
  ['sq', 335, 1198, 9, 11, COL.blue], ['sq', 399, 1198, 9, 11, COL.dkgreen],
  ['sq', 95, 1804, 22, 9, COL.band], ['ln', 242, 265, 1804, COL.agg, 2.5], ['ln', 343, 368, 1804, COL.med, 2.5],
  ['sq', 768, 1813, 10, 14, COL.ltgreen], ['dot', 842, 1813, 4.2, COL.blue],
  ['sq', 121, 2159, 9, 11, COL.dkgreen], ['sq', 290, 2159, 9, 11, COL.ltgreen], ['sq', 121, 2177, 9, 11, COL.gray],
  ['ln', 278, 300, 2177, '#111', 3], ['ln', 108, 130, 2193, COL.med, 2.5]
];

KEYS.forEach(k => {
  const d = document.createElement('div');
  d.className = 'sw';
  if (k[0] === 'sq') {
    Object.assign(d.style, { left: k[1] + 'px', top: (k[2] - k[4] / 2) + 'px', width: k[3] + 'px', height: k[4] + 'px', background: k[5] });
  } else if (k[0] === 'ln') {
    Object.assign(d.style, { left: k[1] + 'px', top: (k[3] - k[5] / 2) + 'px', width: (k[2] - k[1]) + 'px', height: k[5] + 'px', background: k[4] });
  } else {
    Object.assign(d.style, { left: (k[1] - k[3]) + 'px', top: (k[2] - k[3]) + 'px', width: 2 * k[3] + 'px', height: 2 * k[3] + 'px', background: k[4], borderRadius: '50%' });
  }
  page.appendChild(d);
});

TEXTS.forEach(s => {
  const d = document.createElement('div');
  d.className = 't ' + s[0];
  d.innerHTML = s[3];
  d.style.left = s[1] + 'px';
  page.appendChild(d);
  d.style.top = (s[2] - d.offsetHeight / 2) + 'px';
  const w = d.offsetWidth;
  if (s[4] && w > 0) d.style.transform = 'scaleX(' + ((s[4] - s[1]) / w).toFixed(4) + ')';
});

ROTATED.forEach(s => {
  const d = document.createElement('div');
  d.className = 't ax';
  d.textContent = s[2];
  page.appendChild(d);
  const w = d.offsetWidth, h = d.offsetHeight;
  Object.assign(d.style, { left: (s[0] - w / 2) + 'px', top: (s[1] - h / 2) + 'px', transformOrigin: '50% 50%',
    transform: 'rotate(-90deg) scaleX(' + (s[3] / w).toFixed(4) + ')' });
});
</script>
</body>
</html>
